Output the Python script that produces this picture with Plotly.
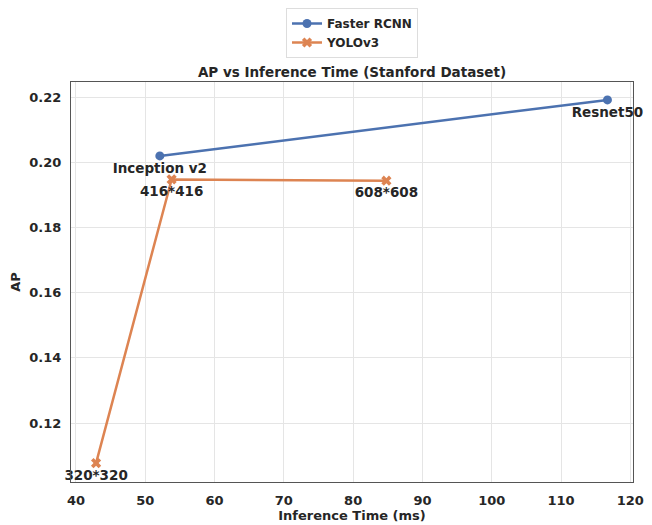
import plotly.graph_objects as go

frcnn_x = [52.1, 116.7]
frcnn_y = [0.2020, 0.2192]
frcnn_labels = ["Inception v2", "Resnet50"]

yolo_x = [42.9, 53.8, 84.8]
yolo_y = [0.1077, 0.1948, 0.1944]
yolo_labels = ["320*320", "416*416", "608*608"]

font_family = "DejaVu Sans"
txt_color = "#262626"

# the page body has an 8px default margin, so the figure is sized to fit
W, H = 644, 517

fig = go.Figure()
fig.add_trace(go.Scatter(
    x=frcnn_x, y=frcnn_y, mode="lines+markers+text", name="Faster RCNN",
    text=frcnn_labels, textposition="bottom center", cliponaxis=False,
    textfont=dict(family=font_family, size=13.5, color=txt_color, weight="bold"),
    line=dict(color="#4C72B0", width=2.5),
    marker=dict(symbol="circle", size=9, color="#4C72B0"),
))
fig.add_trace(go.Scatter(
    x=yolo_x, y=yolo_y, mode="lines+markers+text", name="YOLOv3",
    text=yolo_labels, textposition="bottom center", cliponaxis=False,
    textfont=dict(family=font_family, size=13.5, color=txt_color, weight="bold"),
    line=dict(color="#DD8452", width=2.5),
    marker=dict(symbol="x", size=9, color="#DD8452"),
))

axis_common = dict(
    showgrid=True, gridcolor="#e5e5e5", gridwidth=1,
    showline=True, linecolor="#555555", linewidth=1.2, mirror=True,
    zeroline=False, ticks="", automargin=False,
    tickfont=dict(family=font_family, size=13, color=txt_color, weight="bold"),
)

fig.update_layout(
    width=W, height=H,
    paper_bgcolor="white", plot_bgcolor="white",
    margin=dict(l=63, r=19, t=74, b=43),
    title=dict(text="<b>AP vs Inference Time (Stanford Dataset)</b>", x=0.5, xanchor="center",
               xref="paper",
               y=1 - 64 / H, yanchor="middle",
               font=dict(family=font_family, size=13.5, color=txt_color)),
    xaxis=dict(range=[39.28, 120.39], dtick=10, ticklabelstandoff=6,
               title=dict(text="<b>Inference Time (ms)</b>", standoff=4,
                          font=dict(family=font_family, size=13, color=txt_color)),
               **axis_common),
    yaxis=dict(range=[0.1019, 0.2247], dtick=0.02, tickformat=".2f", ticklabelstandoff=6,
               title=dict(text="<b>AP</b>", standoff=6,
                          font=dict(family=font_family, size=13, color=txt_color)),
               **axis_common),
    legend=dict(x=0.5, xanchor="center", y=1.0 + 4 / H, yanchor="top",
                yref="container",
                bordercolor="#dddddd", borderwidth=1,
                font=dict(family=font_family, size=12, color=txt_color, weight="bold")),
    showlegend=True,
)

fig.write_html("out.html")
